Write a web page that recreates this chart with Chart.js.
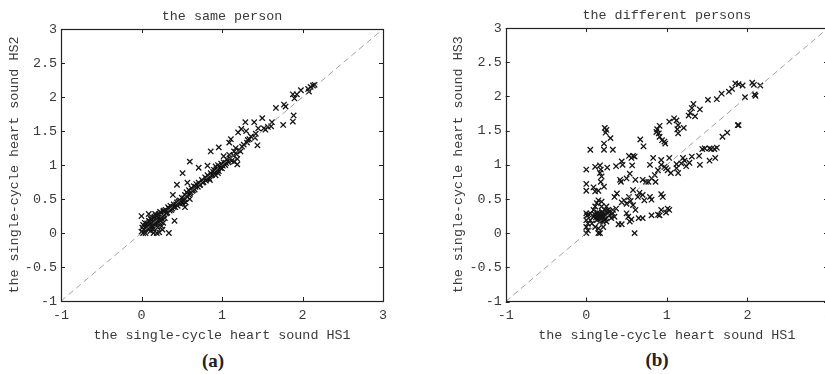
<!DOCTYPE html>
<html>
<head>
<meta charset="utf-8">
<script src="https://cdn.jsdelivr.net/npm/chart.js@4.4.1/dist/chart.umd.min.js"></script>
<style>
  html, body { margin: 0; padding: 0; background: #fff; }
  body { width: 825px; height: 374px; position: relative; overflow: hidden; }
  .panel { position: absolute; top: 0; height: 345px; }
  #wrapA { left: 0; width: 412px; }
  #wrapB { left: 412px; width: 440px; }
  .tag { position: absolute; font: bold 19px "Liberation Serif", serif; color: #222; transform: translate(-50%, -50%); }
</style>
</head>
<body>
<div class="panel" id="wrapA"><canvas id="chartA"></canvas></div>
<div class="panel" id="wrapB"><canvas id="chartB"></canvas></div>
<div class="tag" style="left:213px; top:361px;">(a)</div>
<div class="tag" style="left:657px; top:360px;">(b)</div>
<script>
// panel (a): HS1 vs HS2, same person
const samePerson = [
  [0.00,0.02],[0.01,0.08],[0.02,0.12],[0.03,0.05],[0.05,0.00],[0.04,0.15],[0.06,0.10],[0.08,0.06],
  [0.09,0.18],[0.10,0.12],[0.11,0.03],[0.12,0.20],[0.13,0.15],[0.14,0.09],[0.15,0.22],[0.16,0.17],
  [0.17,0.12],[0.18,0.25],[0.19,0.20],[0.20,0.14],[0.21,0.27],[0.22,0.22],[0.23,0.18],[0.24,0.30],
  [0.25,0.24],[0.26,0.20],[0.27,0.32],[0.28,0.27],[0.29,0.22],[0.30,0.34],[0.15,0.00],[0.19,0.00],
  [0.22,0.01],[0.00,0.25],[0.09,0.28],[0.14,0.05],[0.17,0.28],[0.20,0.08],[0.25,0.10],[0.11,0.22],
  [0.07,0.14],[0.16,0.24],[0.23,0.31],[0.12,0.08],[0.02,0.00],[0.27,0.15],[0.26,0.05],
  [0.05,0.07],[0.08,0.12],[0.10,0.17],[0.13,0.11],[0.15,0.15],[0.17,0.19],[0.18,0.14],[0.21,0.17],
  [0.22,0.28],[0.24,0.22],[0.28,0.33],[0.31,0.29],[0.34,0.36],[0.37,0.34],[0.40,0.38],[0.43,0.42],
  [0.32,0.30],[0.33,0.38],[0.34,0.00],[0.35,0.33],[0.36,0.40],[0.38,0.36],[0.39,0.56],[0.40,0.42],
  [0.41,0.18],[0.42,0.38],[0.44,0.45],[0.44,0.71],[0.45,0.40],[0.47,0.48],[0.48,0.43],[0.50,0.52],
  [0.51,0.44],[0.51,0.88],[0.52,0.47],[0.54,0.38],[0.54,0.56],[0.55,0.45],[0.56,0.60],[0.57,0.74],
  [0.57,0.53],[0.59,0.63],[0.60,1.05],[0.60,0.58],[0.60,0.50],[0.62,0.66],[0.63,0.62],[0.65,0.69],
  [0.66,0.64],[0.68,0.72],[0.70,0.68],[0.71,0.96],[0.71,0.74],[0.73,0.71],[0.75,0.78],[0.77,0.75],
  [0.79,0.82],[0.80,0.77],[0.82,0.99],[0.82,0.85],[0.84,0.80],[0.85,0.78],[0.86,0.88],[0.86,1.20],
  [0.88,0.86],[0.90,0.93],[0.91,0.89],[0.92,0.98],[0.92,0.85],[0.93,0.94],[0.95,1.00],[0.95,0.88],
  [0.46,0.46],[0.49,0.47],[0.53,0.51],[0.58,0.57],[0.61,0.60],[0.64,0.63],[0.67,0.68],[0.72,0.71],
  [0.76,0.74],[0.81,0.80],[0.87,0.85],[0.89,0.90],[0.94,0.92],[0.98,0.96],[1.01,0.99],[1.05,1.03],
  [0.96,0.91],[0.96,1.26],[0.97,0.97],[0.99,1.02],[1.00,0.95],[1.02,1.13],[1.02,1.04],[1.04,1.00],
  [1.06,1.08],[1.08,1.04],[1.09,1.15],[1.09,1.33],[1.11,1.38],[1.10,1.10],[1.12,1.06],[1.14,1.14],
  [1.15,1.20],[1.15,1.05],[1.17,1.25],[1.18,1.16],[1.19,1.09],[1.19,1.01],[1.20,1.48],[1.21,1.22],
  [1.23,1.20],[1.24,1.53],[1.25,1.27],[1.27,1.30],[1.29,1.63],[1.30,1.50],[1.31,1.33],[1.32,1.37],
  [1.34,1.38],[1.36,1.42],[1.40,1.63],[1.41,1.40],[1.42,1.46],[1.44,1.29],[1.45,1.54],[1.50,1.69],
  [1.52,1.54],[1.54,1.52],[1.57,1.56],[1.61,1.57],[1.62,1.63],[1.67,1.84],[1.76,1.59],[1.77,1.89],
  [1.79,1.86],[1.88,1.64],[1.89,1.73],[1.88,2.04],[1.90,1.98],[1.93,2.04],[1.98,2.10],[2.07,2.12],
  [2.08,2.08],[2.10,2.15],[2.13,2.17],[2.15,2.18]
];

// panel (b): HS1 vs HS3, different persons
const diffPersons = [
  [0.25,1.51],[0.24,1.47],[0.23,1.54],[0.30,1.39],[0.05,1.22],[0.22,1.22],[0.22,1.31],[0.33,1.22],
  [0.00,0.93],[0.17,0.99],[0.18,0.93],[0.17,0.88],[0.19,0.83],[0.18,0.75],[0.11,0.97],[0.00,0.72],
  [0.00,0.62],[0.09,0.67],[0.15,0.62],[0.11,0.61],[0.22,0.68],[0.26,0.96],[0.37,0.98],[0.44,1.05],
  [0.45,1.00],[0.42,0.78],[0.43,0.75],[0.53,1.13],[0.58,1.13],[0.60,1.12],[0.56,1.10],[0.57,0.99],
  [0.54,0.87],[0.50,0.80],[0.67,1.37],[0.71,1.27],[0.61,0.78],[0.70,0.78],[0.74,0.75],[0.83,1.10],
  [0.79,1.00],[0.87,1.48],[0.91,1.57],[0.88,1.52],[0.90,1.46],[0.91,1.41],[0.94,1.36],[0.97,1.34],
  [0.98,1.31],[0.93,1.07],[1.03,1.10],[1.03,1.63],[1.09,1.68],[1.12,1.65],[1.14,1.58],[1.13,1.52],
  [1.14,1.46],[1.21,1.54],[1.27,1.72],[1.29,1.76],[1.33,1.89],[1.35,1.71],[1.31,1.83],[1.41,1.81],
  [1.51,1.95],[1.62,1.96],[1.68,2.04],[1.77,2.07],[1.81,2.11],[1.85,2.19],[1.89,2.18],[1.94,2.16],
  [2.06,2.20],[2.08,2.17],[2.16,2.16],
  [1.97,1.99],[2.09,2.03],[2.10,2.01],[1.89,1.58],[1.88,1.58],[1.75,1.47],[1.69,1.41],[1.62,1.25],
  [1.59,1.23],[1.55,1.23],[1.53,1.24],[1.47,1.24],[1.44,1.23],[1.60,1.10],[1.53,1.06],[1.41,1.00],
  [1.28,1.03],[1.24,0.98],[1.31,1.12],[1.40,1.13],[1.20,1.10],[1.22,1.06],[1.18,1.02],[1.12,1.01],
  [1.12,0.95],[1.14,0.88],[1.05,0.88],[1.01,0.92],[0.99,0.95],[0.97,0.97],[0.93,1.00],[0.89,0.92],
  [0.85,0.85],[0.81,0.80],[0.77,0.75],[0.86,0.75],[1.03,0.34],[1.01,0.36],[0.99,0.30],[0.93,0.34],
  [0.91,0.26],[0.89,0.27],[0.81,0.26],[0.70,0.22],[0.65,0.22],[0.93,0.57],[0.95,0.53],[0.79,0.53],
  [0.81,0.49],[0.70,0.56],[0.72,0.48],[0.66,0.59],[0.64,0.53],[0.60,0.00],[0.58,0.63],[0.53,0.53],
  [0.55,0.47],[0.50,0.43],[0.47,0.48],[0.44,0.45],[0.40,0.13],[0.44,0.13],[0.54,0.17],[0.56,0.20],
  [0.50,0.29],[0.52,0.24],[0.58,0.41],[0.61,0.34],[0.38,0.58],[0.35,0.53],[0.33,0.34],[0.37,0.36],
  [0.00,0.29],[0.01,0.26],[0.00,0.19],[0.00,0.09],[0.00,0.00],[0.02,0.04],[0.05,0.29],[0.07,0.14],
  [0.15,0.00],[0.17,0.00],[0.13,0.19],[0.15,0.24],[0.17,0.29],[0.19,0.24],[0.21,0.29],[0.23,0.34],
  [0.19,0.39],[0.25,0.39],[0.27,0.34],[0.23,0.19],[0.17,0.17],[0.11,0.39],[0.13,0.44],[0.15,0.48],
  [0.19,0.46],[0.29,0.26],[0.31,0.22],[0.25,0.17],[0.21,0.09],[0.27,0.29],[0.33,0.29],[0.35,0.24],
  [0.11,0.09],[0.15,0.07],[0.05,0.19],[0.09,0.24],[0.09,0.34],[0.20,0.22],[0.18,0.20],[0.22,0.25],
  [0.16,0.27],[0.24,0.21],[0.20,0.18],[0.14,0.30],[0.26,0.30],[0.28,0.31],[0.12,0.23],
  [0.14,0.20],[0.16,0.22],[0.18,0.26],[0.19,0.21],[0.21,0.24],[0.22,0.20],[0.17,0.23],[0.15,0.28],
  [0.20,0.31],[0.23,0.27],[0.13,0.26],[0.10,0.28],[0.03,0.27],[0.02,0.14]
];

const diagonal = [[-1, -1], [3, 3]];
const xTicks = [-1, 0, 1, 2, 3];
const yTicks = [-1, -0.5, 0, 0.5, 1, 1.5, 2, 2.5, 3];

const FONT = { family: '"Liberation Mono", "DejaVu Sans Mono", monospace', size: 13.4 };
const TEXT = "#3a3a3a";

// MATLAB-style box with inward ticks on all four sides
const boxPlugin = {
  id: "box",
  afterDraw(chart) {
    const { ctx, chartArea: a, scales } = chart;
    ctx.save();
    ctx.strokeStyle = "#222";
    ctx.lineWidth = 1;
    ctx.beginPath();
    xTicks.forEach((v) => {
      const px = Math.round(scales.x.getPixelForValue(v)) + 0.5;
      ctx.moveTo(px, a.bottom); ctx.lineTo(px, a.bottom - 4);
      ctx.moveTo(px, a.top); ctx.lineTo(px, a.top + 4);
    });
    yTicks.forEach((v) => {
      const py = Math.round(scales.y.getPixelForValue(v)) + 0.5;
      ctx.moveTo(a.left, py); ctx.lineTo(a.left + 4, py);
      ctx.moveTo(a.right, py); ctx.lineTo(a.right - 4, py);
    });
    ctx.stroke();
    ctx.lineWidth = 1.2;
    ctx.strokeRect(Math.round(a.left) + 0.5, Math.round(a.top) + 0.5,
      Math.round(a.right - a.left), Math.round(a.bottom - a.top));
    ctx.restore();
  },
};

function makeChart(id, title, yLabel, points, pad, titlePad, xHeight) {
  return new Chart(document.getElementById(id), {
    data: {
      datasets: [
        {
          type: "line",
          data: diagonal.map(([x, y]) => ({ x, y })),
          borderColor: "#8a8a8a",
          borderWidth: 0.8,
          borderDash: [6, 4],
          pointRadius: 0,
        },
        {
          type: "scatter",
          data: points.map(([x, y]) => ({ x, y })),
          pointStyle: "crossRot",
          pointRadius: 3.8,
          borderColor: "#151515",
          borderWidth: 1.3,
        },
      ],
    },
    options: {
      responsive: true,
      maintainAspectRatio: false,
      animation: false,
      layout: { padding: pad },
      plugins: {
        legend: { display: false },
        tooltip: { enabled: false },
        title: {
          display: true,
          text: title,
          fullSize: false,
          color: TEXT,
          font: { ...FONT, weight: "normal" },
          padding: titlePad,
        },
      },
      scales: {
        x: {
          type: "linear",
          min: -1,
          max: 3,
          afterBuildTicks: (s) => { s.ticks = xTicks.map((value) => ({ value })); },
          ticks: { color: TEXT, font: FONT, padding: 6, maxRotation: 0, callback: (v) => String(v) },
          grid: { display: false, drawTicks: false },
          border: { display: false },
          title: { display: true, text: "the single-cycle heart sound HS1", color: TEXT, font: FONT, padding: { top: 0, bottom: 2 } },
          afterFit: (s) => { s.height = xHeight; },
        },
        y: {
          type: "linear",
          min: -1,
          max: 3,
          afterBuildTicks: (s) => { s.ticks = yTicks.map((value) => ({ value })); },
          ticks: { color: TEXT, font: FONT, padding: 4, callback: (v) => String(v) },
          grid: { display: false, drawTicks: false },
          border: { display: false },
          title: { display: true, text: yLabel, color: TEXT, font: FONT, padding: { top: 6, bottom: 0 } },
          afterFit: (s) => { s.width = 61; },
        },
      },
    },
    plugins: [boxPlugin],
  });
}

makeChart("chartA", "the same person", "the single-cycle heart sound HS2", samePerson,
  { left: 0, right: 29, top: 0, bottom: 0 }, { top: 8, bottom: 5 }, 44);
makeChart("chartB", "the different persons", "the single-cycle heart sound HS3", diffPersons,
  { left: 32.7, right: 24, top: 0, bottom: 0 }, { top: 7, bottom: 5 }, 43.5);
</script>
</body>
</html>
